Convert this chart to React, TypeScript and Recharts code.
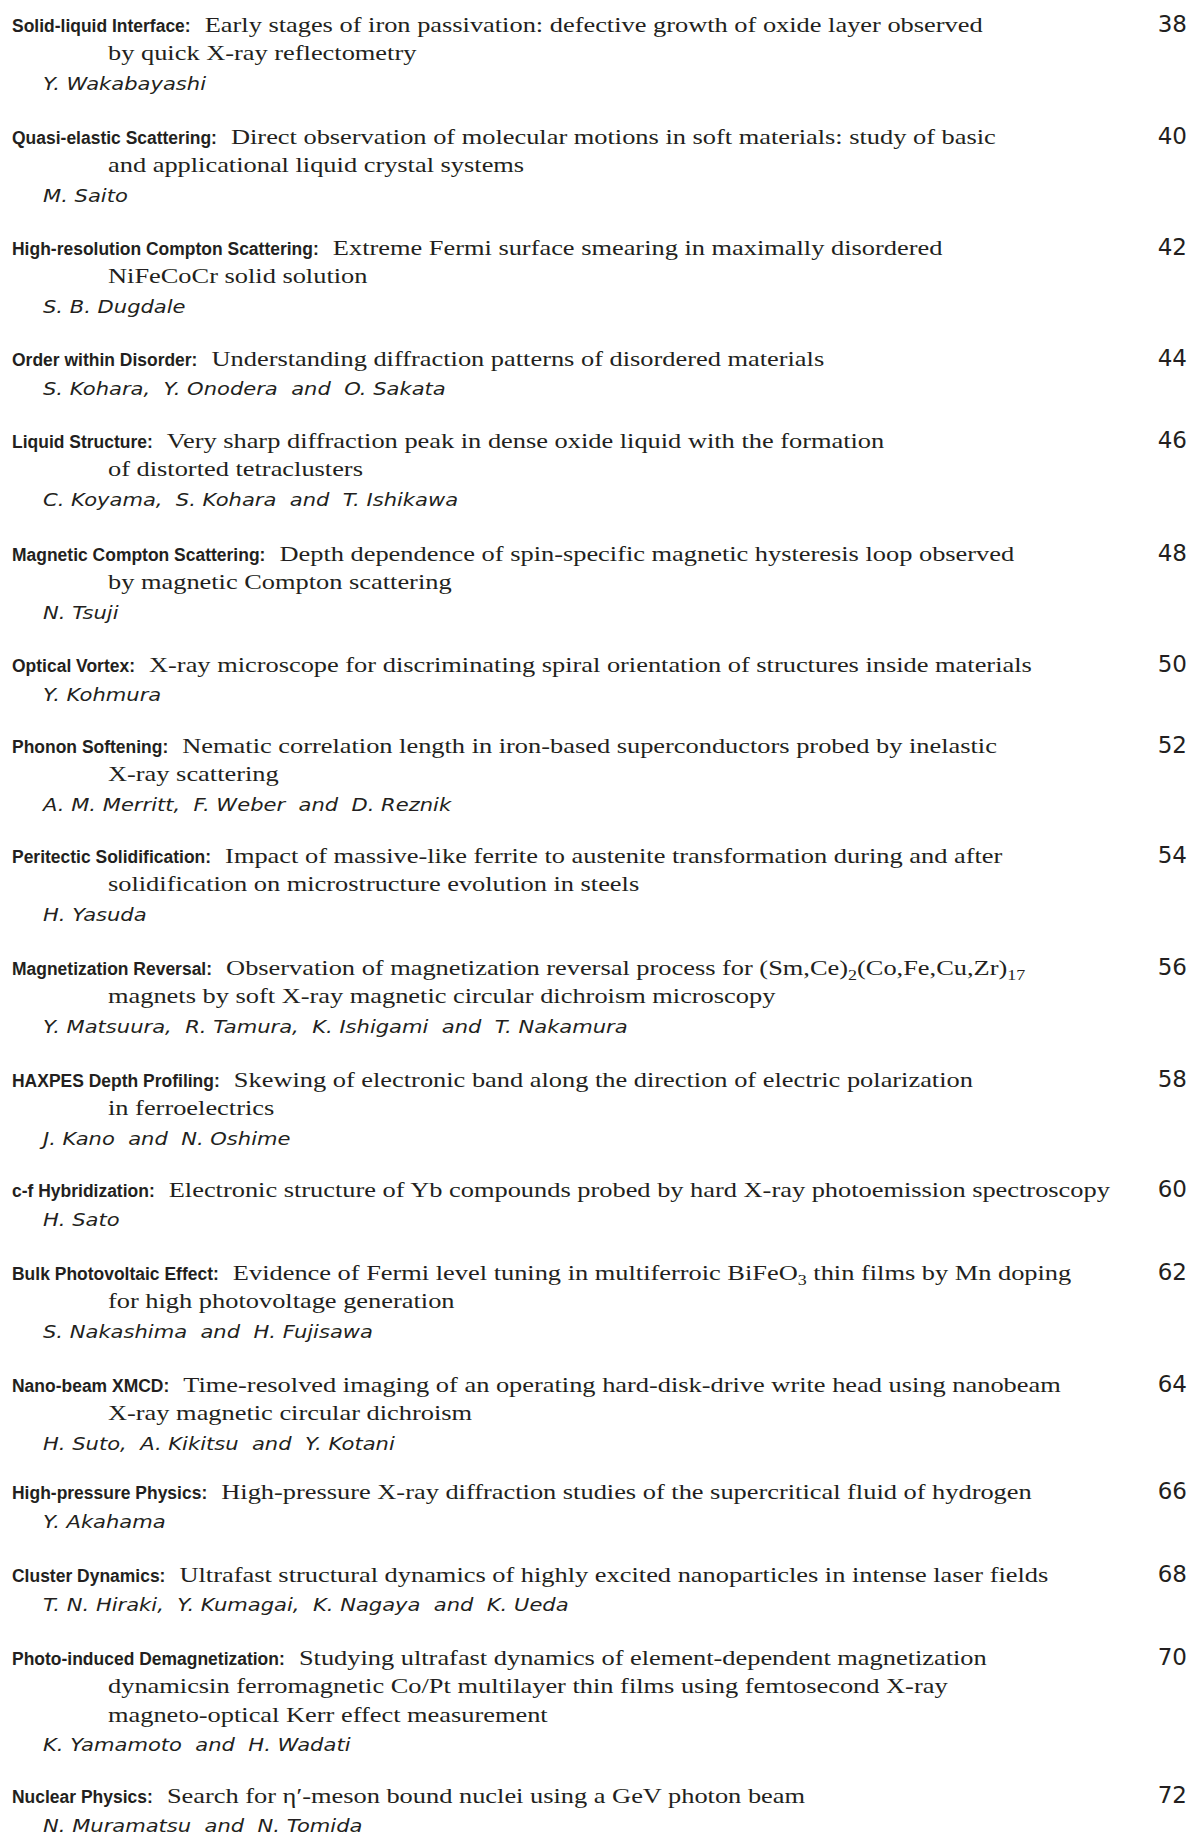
import React from 'react';
import { ScatterChart, Scatter, XAxis, YAxis } from 'recharts';

// Contents page: one point per article, placed by the row it starts on.
const topics = [
  'Solid-liquid Interface:',
  'Quasi-elastic Scattering:',
  'High-resolution Compton Scattering:',
  'Order within Disorder:',
  'Liquid Structure:',
  'Magnetic Compton Scattering:',
  'Optical Vortex:',
  'Phonon Softening:',
  'Peritectic Solidification:',
  'Magnetization Reversal:',
  'HAXPES Depth Profiling:',
  'c-f Hybridization:',
  'Bulk Photovoltaic Effect:',
  'Nano-beam XMCD:',
  'High-pressure Physics:',
  'Cluster Dynamics:',
  'Photo-induced Demagnetization:',
  'Nuclear Physics:',
];

// _{..} marks a subscript
const titles: string[][] = [
  ['Early stages of iron passivation: defective growth of oxide layer observed', 'by quick X-ray reflectometry'],
  ['Direct observation of molecular motions in soft materials: study of basic', 'and applicational liquid crystal systems'],
  ['Extreme Fermi surface smearing in maximally disordered', 'NiFeCoCr solid solution'],
  ['Understanding diffraction patterns of disordered materials'],
  ['Very sharp diffraction peak in dense oxide liquid with the formation', 'of distorted tetraclusters'],
  ['Depth dependence of spin-specific magnetic hysteresis loop observed', 'by magnetic Compton scattering'],
  ['X-ray microscope for discriminating spiral orientation of structures inside materials'],
  ['Nematic correlation length in iron-based superconductors probed by inelastic', 'X-ray scattering'],
  ['Impact of massive-like ferrite to austenite transformation during and after', 'solidification on microstructure evolution in steels'],
  ['Observation of magnetization reversal process for (Sm,Ce)_{2}(Co,Fe,Cu,Zr)_{17}', 'magnets by soft X-ray magnetic circular dichroism microscopy'],
  ['Skewing of electronic band along the direction of electric polarization', 'in ferroelectrics'],
  ['Electronic structure of Yb compounds probed by hard X-ray photoemission spectroscopy'],
  ['Evidence of Fermi level tuning in multiferroic BiFeO_{3} thin films by Mn doping', 'for high photovoltage generation'],
  ['Time-resolved imaging of an operating hard-disk-drive write head using nanobeam', 'X-ray magnetic circular dichroism'],
  ['High-pressure X-ray diffraction studies of the supercritical fluid of hydrogen'],
  ['Ultrafast structural dynamics of highly excited nanoparticles in intense laser fields'],
  ['Studying ultrafast dynamics of element-dependent magnetization', 'dynamicsin ferromagnetic Co/Pt multilayer thin films using femtosecond X-ray', 'magneto-optical Kerr effect measurement'],
  ['Search for \u03b7\u2032-meson bound nuclei using a GeV photon beam'],
];

const authors = [
  'Y. Wakabayashi',
  'M. Saito',
  'S. B. Dugdale',
  'S. Kohara,  Y. Onodera  and  O. Sakata',
  'C. Koyama,  S. Kohara  and  T. Ishikawa',
  'N. Tsuji',
  'Y. Kohmura',
  'A. M. Merritt,  F. Weber  and  D. Reznik',
  'H. Yasuda',
  'Y. Matsuura,  R. Tamura,  K. Ishigami  and  T. Nakamura',
  'J. Kano  and  N. Oshime',
  'H. Sato',
  'S. Nakashima  and  H. Fujisawa',
  'H. Suto,  A. Kikitsu  and  Y. Kotani',
  'Y. Akahama',
  'T. N. Hiraki,  Y. Kumagai,  K. Nagaya  and  K. Ueda',
  'K. Yamamoto  and  H. Wadati',
  'N. Muramatsu  and  N. Tomida',
];

const pages = [38, 40, 42, 44, 46, 48, 50, 52, 54, 56, 58, 60, 62, 64, 66, 68, 70, 72];

// row each entry starts on (first baseline)
const rows = [32, 144, 255, 366, 448, 561, 672, 753, 863, 975, 1087, 1197, 1280, 1392, 1499, 1582, 1665, 1803];

const data = topics.map((topic, i) => ({
  col: 0,
  row: rows[i],
  topic,
  lines: titles[i],
  author: authors[i],
  page: pages[i],
}));

const W = 1190;
const H = 1834;
const INK = '#231f20';

const LABEL_FONT = '"Liberation Sans", Arial, Helvetica, sans-serif';
const LABEL_SIZE = 19;
const LABEL_SX = 0.92;
const TITLE_FONT = '"Liberation Serif", "Times New Roman", Times, serif';
const TITLE_SIZE = 22;
const TITLE_SX = 1.2;
const AUTHOR_FONT = '"DejaVu Sans", sans-serif';
const AUTHOR_SIZE = 17;
const AUTHOR_SX = 1.24;
const PAGE_FONT = '"DejaVu Sans", sans-serif';

const LINE_STEP = 28.4;
const AUTHOR_STEP = 29.3;
const SUB_DY = 5;

let ctx: CanvasRenderingContext2D | null = null;
const labelWidth = (s: string) => {
  if (!ctx) ctx = document.createElement('canvas').getContext('2d');
  if (!ctx) return s.length * 10;
  ctx.font = `bold ${LABEL_SIZE}px "Liberation Sans", Arial, sans-serif`;
  return ctx.measureText(s).width;
};

const renderTitle = (line: string) => {
  const parts = line.split(/_\{([^}]*)\}/);
  const out: React.ReactNode[] = [];
  let lowered = false;
  parts.forEach((p, k) => {
    if (!p) return;
    if (k % 2 === 1) {
      out.push(
        <tspan key={k} dy={lowered ? 0 : SUB_DY} fontSize={15}>{p}</tspan>
      );
      lowered = true;
    } else {
      out.push(
        <tspan key={k} dy={lowered ? -SUB_DY : 0}>{p}</tspan>
      );
      lowered = false;
    }
  });
  return out;
};

const Entry = (props: any) => {
  const { cx, cy, payload } = props;
  if (cx == null || cy == null) return null;
  const x0 = cx + 12;
  const titleX = x0 + labelWidth(payload.topic) * LABEL_SX + 14;
  const lines: string[] = payload.lines;
  const authorY = cy + (lines.length - 1) * LINE_STEP + AUTHOR_STEP;
  return (
    <g fill={INK}>
      <text
        transform={`translate(${x0},${cy}) scale(${LABEL_SX},1)`}
        fontFamily={LABEL_FONT}
        fontSize={LABEL_SIZE}
        fontWeight="bold"
      >
        {payload.topic}
      </text>
      {lines.map((ln, j) => (
        <text
          key={j}
          transform={`translate(${j === 0 ? titleX : cx + 108},${cy + j * LINE_STEP}) scale(${TITLE_SX},1)`}
          fontFamily={TITLE_FONT}
          fontSize={TITLE_SIZE}
        >
          {renderTitle(ln)}
        </text>
      ))}
      <text
        transform={`translate(${cx + 43},${authorY}) scale(${AUTHOR_SX},1)`}
        fontFamily={AUTHOR_FONT}
        fontSize={AUTHOR_SIZE}
        fontStyle="italic"
        style={{ whiteSpace: 'pre' }}
      >
        {payload.author}
      </text>
      <text x={cx + 1187} y={cy} textAnchor="end" fontFamily={PAGE_FONT} fontSize={23}>
        {payload.page}
      </text>
    </g>
  );
};

export default function App() {
  return (
    <div style={{ position: 'absolute', left: 0, top: 0, width: W, height: H, background: '#fff' }}>
      <ScatterChart width={W} height={H} margin={{ top: 0, right: 0, bottom: 0, left: 0 }}>
        <XAxis type="number" dataKey="col" domain={[0, W]} hide />
        <YAxis type="number" dataKey="row" domain={[0, H]} reversed hide />
        <Scatter data={data} isAnimationActive={false} shape={(p: any) => <Entry {...p} />} />
      </ScatterChart>
    </div>
  );
}
